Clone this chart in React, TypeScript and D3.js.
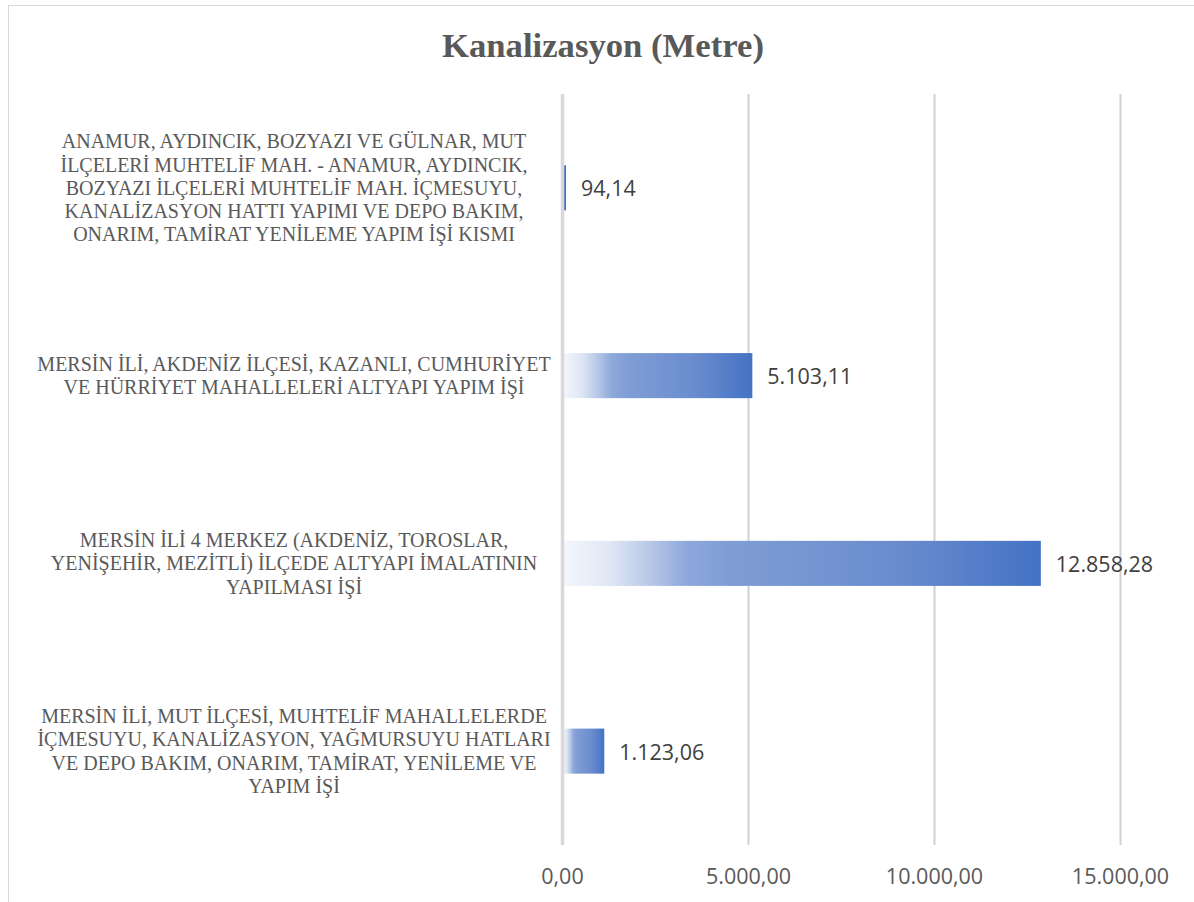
import React from "react";
import * as d3 from "d3";

const title = "Kanalizasyon (Metre)";
const categories = [
  "ANAMUR, AYDINCIK, BOZYAZI VE GÜLNAR, MUT\nİLÇELERİ MUHTELİF MAH. - ANAMUR, AYDINCIK,\nBOZYAZI İLÇELERİ MUHTELİF MAH. İÇMESUYU,\nKANALİZASYON HATTI YAPIMI VE DEPO BAKIM,\nONARIM, TAMİRAT YENİLEME YAPIM İŞİ KISMI",
  "MERSİN İLİ, AKDENİZ İLÇESİ, KAZANLI, CUMHURİYET\nVE HÜRRİYET MAHALLELERİ ALTYAPI YAPIM İŞİ",
  "MERSİN İLİ 4 MERKEZ (AKDENİZ, TOROSLAR,\nYENİŞEHİR, MEZİTLİ) İLÇEDE ALTYAPI İMALATININ\nYAPILMASI İŞİ",
  "MERSİN İLİ, MUT İLÇESİ, MUHTELİF MAHALLELERDE\nİÇMESUYU, KANALİZASYON, YAĞMURSUYU HATLARI\nVE DEPO BAKIM, ONARIM, TAMİRAT, YENİLEME VE\nYAPIM İŞİ",
];
const values = [94.14, 5103.11, 12858.28, 1123.06];
const ticks = [0, 5000, 10000, 15000];

const trFormat = (v: number) => {
  const [i, f] = v.toFixed(2).split(".");
  return i.replace(/\B(?=(\d{3})+(?!\d))/g, ".") + "," + f;
};

export default function App() {
  const W = 1194, H = 902;
  const x = d3.scaleLinear().domain([0, 15000]).range([562.5, 1120.5]);
  const y = d3.scaleBand<string>().domain(categories).range([94, 845]).paddingInner(0.76).paddingOuter(0.38);
  const labelX = 294;
  const lineH = 23.3;
  const numFont = "'Open Sans', 'Noto Sans', sans-serif";
  return (
    <svg width={W} height={H} style={{ position: "fixed", left: 0, top: 0, background: "#fff" }}>
      <defs>
        <linearGradient id="barGrad" x1="0" x2="1" y1="0" y2="0">
          <stop offset="0" stopColor="#F4F7FC" />
          <stop offset="0.1" stopColor="#DFE7F5" />
          <stop offset="0.2" stopColor="#AFC1E5" />
          <stop offset="0.26" stopColor="#8DA8DB" />
          <stop offset="0.35" stopColor="#7F9DD5" />
          <stop offset="0.7" stopColor="#6A8CCE" />
          <stop offset="1" stopColor="#4472C4" />
        </linearGradient>
      </defs>
      <rect x={8.5} y={5.5} width={1190} height={910} fill="#fff" stroke="#D9D9D9" strokeWidth={1} />
      <text
        x={603}
        y={57}
        textAnchor="middle"
        fontFamily="'Liberation Serif', 'Times New Roman', serif"
        fontWeight="bold"
        fontSize={34}
        fill="#595959"
        textLength={322}
        lengthAdjust="spacingAndGlyphs"
      >
        {title}
      </text>
      {ticks.slice(1).map((t) => (
        <line key={t} x1={x(t)} x2={x(t)} y1={94} y2={845} stroke="#D0D0D0" strokeWidth={2} />
      ))}
      {categories.map((c, i) => {
        const y0 = y(c)!;
        const bw = y.bandwidth();
        const w = x(values[i]) - x(0);
        return (
          <g key={i}>
            <rect
              x={x(0)}
              y={y0}
              width={w}
              height={bw}
              fill={w < 8 ? "#4472C4" : "url(#barGrad)"}
            />
            <text
              x={x(values[i]) + 15}
              y={y0 + bw / 2}
              dominantBaseline="central"
              fontFamily={numFont}
              fontSize={21.5}
              fill="#404040"
            >
              {trFormat(values[i])}
            </text>
          </g>
        );
      })}
      <line x1={x(0)} x2={x(0)} y1={94} y2={845} stroke="#D9D9D9" strokeWidth={3.5} />
      {categories.map((c, i) => {
        const lines = c.split("\n");
        const cy = y(c)! + y.bandwidth() / 2;
        const top = cy - ((lines.length - 1) * lineH) / 2;
        return (
          <text
            key={i}
            textAnchor="middle"
            fontFamily="'Liberation Serif', 'Times New Roman', serif"
            fontSize={20}
            fill="#595959"
          >
            {lines.map((l, j) => (
              <tspan key={j} x={labelX} y={top + j * lineH} dominantBaseline="central">
                {l}
              </tspan>
            ))}
          </text>
        );
      })}
      {ticks.map((t) => (
        <text
          key={t}
          x={x(t)}
          y={875}
          textAnchor="middle"
          dominantBaseline="central"
          fontFamily={numFont}
          fontSize={21.5}
          fill="#595959"
        >
          {trFormat(t)}
        </text>
      ))}
    </svg>
  );
}
